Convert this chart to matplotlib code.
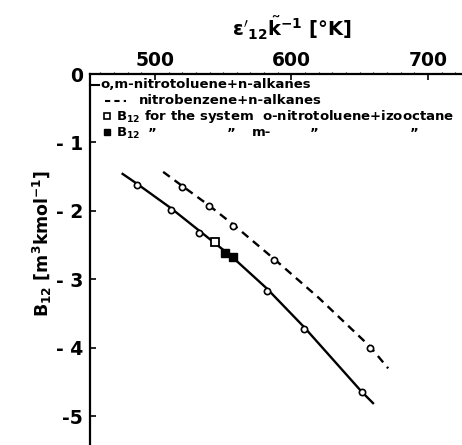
import matplotlib
matplotlib.use("Agg")
import matplotlib.pyplot as plt
from matplotlib.lines import Line2D

plt.rcParams['font.family'] = ['DejaVu Sans']
plt.rcParams['font.weight'] = 'bold'
plt.rcParams['mathtext.fontset'] = 'dejavusans'
plt.rcParams['mathtext.default'] = 'bf'

# ---- data ----
# o,m-nitrotoluene + n-alkanes (solid curve)
solid_x = [475.6, 486.6, 511.7, 532.5, 557.0, 581.8, 609.4, 651.4, 660.4]
solid_y = [-1.45, -1.60, -1.96, -2.29, -2.68, -3.13, -3.70, -4.64, -4.82]
# nitrobenzene + n-alkanes (dashed curve)
dash_x = [506.0, 519.6, 539.6, 557.4, 587.2, 620.0, 657.5, 670.9]
dash_y = [-1.43, -1.63, -1.92, -2.20, -2.70, -3.27, -3.98, -4.30]
# open circles on the solid curve
circ_solid_x = [486.6, 511.7, 532.5, 581.8, 609.4, 651.4]
circ_solid_y = [-1.62, -1.98, -2.32, -3.17, -3.72, -4.65]
# open circles on the dashed curve
circ_dash_x = [519.6, 539.6, 557.4, 587.2, 657.5]
circ_dash_y = [-1.65, -1.93, -2.22, -2.71, -4.00]
# B12 o-nitrotoluene + izooctane (open square)
sq_open_x = [544.0]
sq_open_y = [-2.45]
# B12 m-nitrotoluene + izooctane (filled)
sq_fill_x = [551.3, 557.0]
sq_fill_y = [-2.61, -2.67]

xticks = [500, 600, 700]
yticks = [0, -1, -2, -3, -4, -5]
ytick_labels = ["0", "- 1", "- 2", "- 3", "- 4", "-5"]

W, H = 462, 445
fig = plt.figure(figsize=(W / 100, H / 100), dpi=100)
ax = fig.add_axes([90 / W, 0, (W - 90) / W, (H - 74) / H])
ax.set_xlim(452.4, 725)
ax.set_ylim(-5.42, 0)

for s in ['bottom', 'right']:
    ax.spines[s].set_visible(False)
for s in ['top', 'left']:
    ax.spines[s].set_linewidth(1.6)

ax.xaxis.tick_top()
ax.set_xticks(xticks)
ax.set_xticklabels([str(v) for v in xticks], fontsize=13.5, fontweight='bold')
ax.set_xticks(range(460, 730, 10), minor=True)
ax.tick_params(axis='x', which='major', direction='in', length=4, width=1.2, pad=3)
ax.tick_params(axis='x', which='minor', direction='out', length=1.5, width=0.8)
ax.set_yticks(yticks)
ax.set_yticklabels(ytick_labels, fontsize=13.5, fontweight='bold')
ax.tick_params(axis='y', which='major', direction='in', length=4, width=1.2, pad=5)

ax.plot(solid_x, solid_y, '-', color='black', lw=1.7, solid_capstyle='butt')
ax.plot(dash_x, dash_y, '--', color='black', lw=1.7, dashes=(3.5, 2.5))
ax.plot(circ_solid_x, circ_solid_y, 'o', mfc='white', mec='black', ms=4.5, mew=1.2)
ax.plot(circ_dash_x, circ_dash_y, 'o', mfc='white', mec='black', ms=4.5, mew=1.2)
ax.plot(sq_open_x, sq_open_y, 's', mfc='white', mec='black', ms=5.5, mew=1.3)
ax.plot(sq_fill_x, sq_fill_y, 's', mfc='black', mec='black', ms=5.5, mew=1.0)


def fx(px):
    return px / W


def fy(py):
    return 1 - py / H


# axis labels
fig.text(fx(292), fy(28), r"$\epsilon'_{12}\tilde{k}^{-1}$ [°K]", fontsize=14,
         fontweight='bold', ha='center', va='center')
fig.text(fx(42), fy(243), r"$B_{12}$ [m$^3$kmol$^{-1}$]", fontsize=12.5,
         fontweight='bold', ha='center', va='center', rotation=90)

# legend block
lfs = 9.5
fig.add_artist(Line2D([fx(90), fx(99)], [fy(85), fy(85)], color='black', lw=1.5))
fig.text(fx(100), fy(85), "o,m-nitrotoluene+n-alkanes", fontsize=lfs,
         fontweight='bold', ha='left', va='center')
fig.add_artist(Line2D([fx(105), fx(126)], [fy(101), fy(101)], color='black',
                      lw=1.5, ls=(0, (2.5, 2.0))))
fig.text(fx(139), fy(101), "nitrobenzene+n-alkanes", fontsize=lfs,
         fontweight='bold', ha='left', va='center')
fig.add_artist(Line2D([fx(107)], [fy(116)], marker='s', mfc='white', mec='black',
                      ms=4.5, mew=1.2))
fig.text(fx(116), fy(117), r"$B_{12}$ for the system  o-nitrotoluene+izooctane",
         fontsize=lfs, fontweight='bold', ha='left', va='center')
fig.add_artist(Line2D([fx(107)], [fy(132)], marker='s', mfc='black', mec='black',
                      ms=4.5, mew=1.0))
fig.text(fx(116), fy(133), r"$B_{12}$", fontsize=lfs, fontweight='bold',
         ha='left', va='center')
for px, s in [(148, "\u201d"), (227, "\u201d"), (252, "m-"), (310, "\u201d"), (410, "\u201d")]:
    fig.text(fx(px), fy(133), s, fontsize=lfs, fontweight='bold', ha='left', va='center')

fig.savefig("out.png", dpi=100)
